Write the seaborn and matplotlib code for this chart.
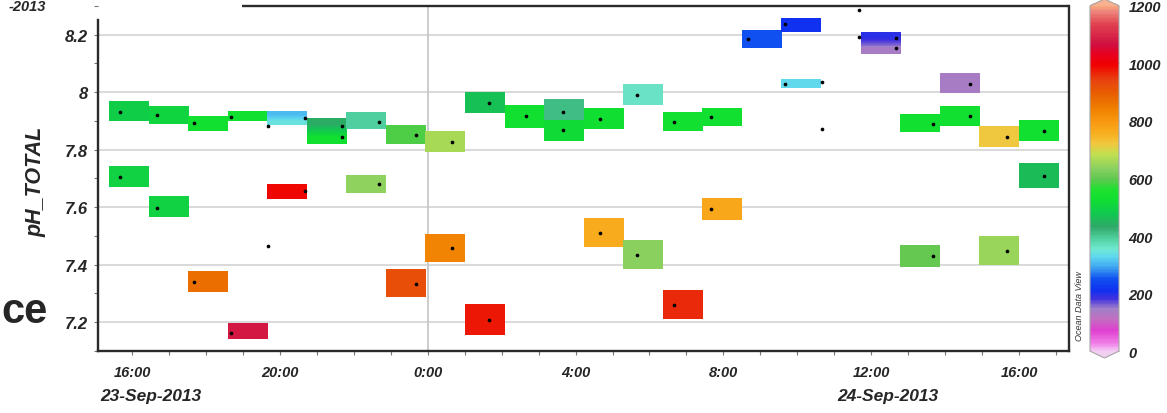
import matplotlib
matplotlib.use("Agg")
import pandas as pd
import matplotlib.pyplot as plt
from matplotlib.colors import LinearSegmentedColormap, Normalize
from matplotlib.cm import ScalarMappable
from matplotlib.ticker import MultipleLocator
import seaborn as sns

# time in hours since 23-Sep-2013 00:00
col_edges = [15.38, 16.45, 17.52, 18.59, 19.66, 20.73, 21.80, 22.87, 23.94,
             25.01, 26.08, 27.15, 28.22, 29.29, 30.36, 31.43, 32.50, 33.57,
             34.64, 35.71, 36.78, 37.85, 38.92, 39.99, 41.06]

# boxes: column, pH top / bottom, colour value top / bottom
box_col = [0, 0, 1, 1, 2, 2, 3, 3, 4, 4, 5, 6, 6, 7, 7, 8, 8, 9, 9, 10,
           11, 11, 12, 12, 13, 13, 14, 14, 15, 15, 16, 17, 17, 19, 20, 20,
           21, 21, 22, 22, 23, 23]
box_top = [7.967, 7.743, 7.950, 7.636, 7.915, 7.376, 7.935, 7.196, 7.935, 7.680,
           7.909, 7.928, 7.711, 7.887, 7.383, 7.864, 7.505, 8.001, 7.260, 7.955,
           7.973, 7.903, 7.943, 7.561, 8.029, 7.482, 7.930, 7.310, 7.943, 7.629,
           8.215, 8.257, 8.043, 8.209, 7.921, 7.467, 8.065, 7.950, 7.880, 7.497,
           7.904, 7.753]
box_bottom = [7.900, 7.670, 7.889, 7.565, 7.866, 7.304, 7.901, 7.142, 7.887, 7.630,
              7.820, 7.872, 7.650, 7.821, 7.287, 7.791, 7.408, 7.928, 7.155, 7.875,
              7.903, 7.831, 7.871, 7.463, 7.956, 7.384, 7.865, 7.211, 7.882, 7.555,
              8.155, 8.210, 8.014, 8.134, 7.860, 7.391, 7.997, 7.882, 7.808, 7.398,
              7.831, 7.668]
val_top = [490, 500, 505, 500, 530, 870, 530, 1080, 305, 990,
           440, 390, 640, 590, 920, 665, 830, 465, 975, 530,
           410, 520, 525, 760, 365, 635, 530, 965, 530, 770,
           250, 215, 330, 195, 530, 600, 140, 530, 720, 650,
           530, 460]
val_bottom = [490, 500, 505, 500, 530, 870, 530, 1080, 345, 990,
              530, 390, 640, 590, 920, 665, 830, 465, 975, 530,
              410, 520, 525, 760, 365, 635, 530, 965, 530, 770,
              250, 215, 330, 140, 530, 600, 140, 530, 720, 650,
              530, 460]

# sample points
dot_time = [15.67, 15.67, 16.67, 16.67, 17.67, 17.67, 18.67, 18.67, 19.67, 19.67,
            20.67, 20.67, 21.67, 21.67, 22.67, 22.67, 23.67, 23.67, 24.67, 24.67,
            25.67, 25.67, 26.67, 27.67, 27.67, 28.67, 28.67, 29.67, 29.67, 30.67,
            30.67, 31.67, 31.67, 32.67, 33.67, 33.67, 34.67, 34.67, 35.67, 35.67,
            36.67, 36.67, 37.67, 37.67, 38.67, 38.67, 39.67, 39.67, 40.67, 40.67]
dot_ph = [7.931, 7.704, 7.921, 7.597, 7.892, 7.341, 7.914, 7.163, 7.884, 7.465,
          7.911, 7.655, 7.884, 7.846, 7.897, 7.681, 7.852, 7.333, 7.827, 7.458,
          7.964, 7.208, 7.917, 7.931, 7.869, 7.907, 7.511, 7.992, 7.435, 7.896,
          7.260, 7.913, 7.593, 8.184, 8.236, 8.028, 8.037, 7.871, 8.287, 8.193,
          8.187, 8.154, 7.889, 7.429, 8.028, 7.917, 7.846, 7.449, 7.866, 7.710]

x_ticks = [16, 20, 24, 28, 32, 36, 40]
x_labels = ["16:00", "20:00", "0:00", "4:00", "8:00", "12:00", "16:00"]
y_ticks = [7.2, 7.4, 7.6, 7.8, 8.0, 8.2]
y_labels = ["7.2", "7.4", "7.6", "7.8", "8", "8.2"]
date_labels = ["23-Sep-2013", "24-Sep-2013"]
cbar_ticks = [0, 200, 400, 600, 800, 1000, 1200]

# ODV-like colour scale
odv_stops = [(0, "#f4c4f4"), (24, "#f080e8"), (70, "#e040d0"), (111, "#c070c0"),
             (146, "#a080c8"), (181, "#4030e0"), (209, "#1030f0"), (250, "#1050f0"),
             (292, "#40a8f0"), (327, "#60d8f0"), (355, "#70e8d0"), (390, "#50d0a0"),
             (431, "#30a868"), (477, "#10c850"), (529, "#10e030"), (563, "#20e030"),
             (598, "#60c850"), (633, "#88d060"), (685, "#c0e050"), (720, "#f0c840"),
             (755, "#f8b020"), (800, "#f89810"), (842, "#f08000"), (894, "#e86000"),
             (946, "#e84010"), (998, "#f00000"), (1033, "#e80020"), (1068, "#d01040"),
             (1137, "#e04050"), (1190, "#f09080"), (1200, "#f8a878")]
cmap = LinearSegmentedColormap.from_list("odv", [(v / 1200, c) for v, c in odv_stops])
cmap.set_over("#f8b090")
cmap.set_under("#f0d0f0")
norm = Normalize(0, 1200)

sns.set_style("white")
plt.rcParams["font.family"] = ["Liberation Sans", "DejaVu Sans"]

W, H = 1167, 414
fig = plt.figure(figsize=(W / 100, H / 100), dpi=100)
ax = fig.add_axes([98 / W, 62 / H, 971 / W, 345 / H])

for c, t, b, vt, vb in zip(box_col, box_top, box_bottom, val_top, val_bottom):
    ax.imshow([[vt], [vb]], extent=(col_edges[c], col_edges[c + 1], b, t),
              cmap=cmap, norm=norm, aspect="auto", interpolation="bilinear",
              origin="upper", zorder=2)

dots = pd.DataFrame({"time": dot_time, "ph": dot_ph})
sns.scatterplot(data=dots, x="time", y="ph", ax=ax, color="black", s=7,
                linewidth=0, zorder=4, legend=False)

ax.set_xlim(15.08, 41.35)
ax.set_ylim(7.1, 8.3)
ax.set_xlabel("")
ax.set_ylabel("")

for y in y_ticks:
    ax.axhline(y, color="#cfcfcf", lw=1.1, zorder=1)
ax.axvline(24, color="#c8c8c8", lw=1.3, zorder=1)

tick_font = dict(fontweight="bold", fontstyle="italic")
ax.set_xticks(x_ticks)
ax.set_xticklabels(x_labels, fontsize=10.5, **tick_font)
ax.xaxis.set_minor_locator(MultipleLocator(1))
ax.set_yticks(y_ticks)
ax.set_yticklabels(y_labels, fontsize=12, **tick_font)
ax.yaxis.set_minor_locator(MultipleLocator(0.1))
ax.tick_params(axis="both", which="both", direction="out", length=3,
               width=0.8, color="#777777", bottom=True, left=True)
ax.tick_params(axis="x", which="major", pad=7)
ax.tick_params(axis="y", which="major", pad=4)

spine_col = "#2a2a2a"
for side in ["left", "bottom", "right"]:
    ax.spines[side].set_color(spine_col)
    ax.spines[side].set_linewidth(1.7)
ax.spines["top"].set_visible(False)
ax.spines["left"].set_bounds(7.1, 8.252)
ax.plot([0.148, 1.0], [1.0, 1.0], transform=ax.transAxes, color=spine_col,
        lw=1.7, clip_on=False, solid_capstyle="butt", zorder=5)

fig.text(36 / W, 1 - 182 / H, "pH_TOTAL", rotation=90, ha="center", va="center",
         fontsize=15.5, **tick_font)
fig.text(151 / W, 1 - 397 / H, date_labels[0], ha="center", va="center",
         fontsize=12.5, **tick_font)
fig.text(888 / W, 1 - 397 / H, date_labels[1], ha="center", va="center",
         fontsize=12.5, **tick_font)
fig.text(46 / W, 1 - 11 / H, "-2013", ha="right", va="baseline",
         fontsize=10.5, **tick_font)
fig.text(1 / W, 1 - 323 / H, "ce", ha="left", va="baseline",
         fontsize=30, fontweight="bold")

# colour bar
cax = fig.add_axes([1090 / W, 1 - 359 / H, 29 / W, 359 / H])
cb = fig.colorbar(ScalarMappable(norm=norm, cmap=cmap), cax=cax,
                  extend="both", extendfrac=0.02)
cb.outline.set_edgecolor("#a8a8a8")
cb.outline.set_linewidth(0.8)
cb.set_ticks(cbar_ticks)
cb.set_ticklabels([str(t) for t in cbar_ticks])
for lab in cax.get_yticklabels():
    lab.set_fontweight("bold")
    lab.set_fontstyle("italic")
    lab.set_fontsize(10.5)
cax.tick_params(axis="y", direction="in", length=4, width=0.6,
                color="#999999", left=True, right=True, pad=7)
fig.text(1080 / W, 1 - 306 / H, "Ocean Data View", rotation=90, ha="center",
         va="center", fontsize=6.5, fontstyle="italic", color="#333333")

fig.savefig("out.png", dpi=100)
plt.close(fig)
